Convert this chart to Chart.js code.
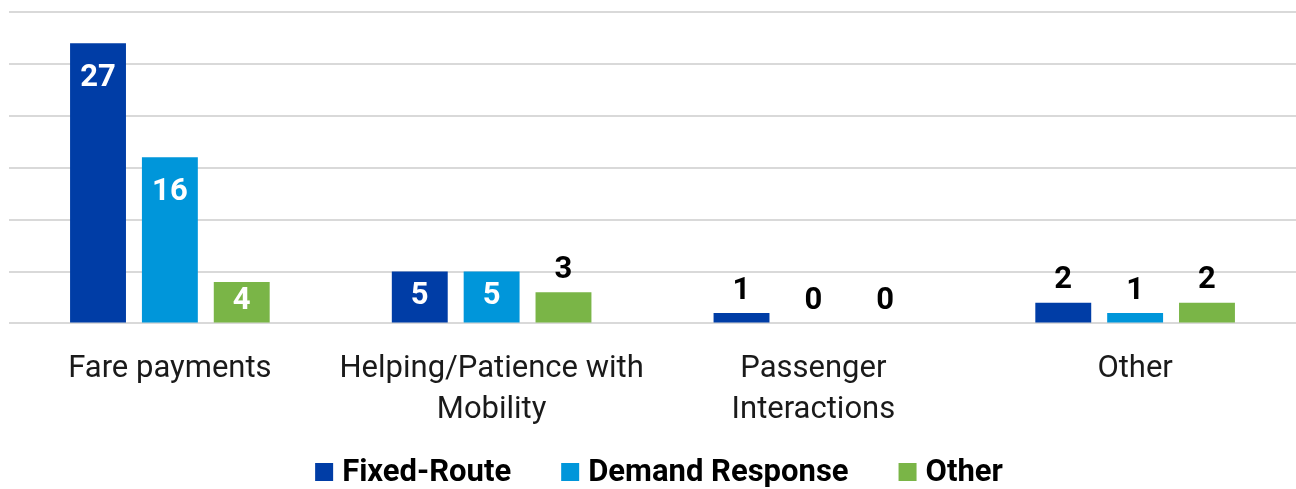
<!DOCTYPE html>
<html>
<head>
<meta charset="utf-8">
<script src="https://cdn.jsdelivr.net/npm/chart.js@4/dist/chart.umd.min.js"></script>
<style>
  html, body { margin: 0; padding: 0; background: #fff; }
  #wrap { width: 1296px; height: 489px; position: relative; }
</style>
</head>
<body>
<div id="wrap"><canvas id="myChart"></canvas></div>
<script>
const categories = [['Fare payments'], ['Helping/Patience with', 'Mobility'], ['Passenger', 'Interactions'], ['Other']];
const seriesNames = ['Fixed-Route', 'Demand Response', 'Other'];
const fixedRoute = [27, 5, 1, 2];
const demandResponse = [16, 5, 0, 1];
const otherSeries = [4, 3, 0, 2];
const yTicks = [0, 5, 10, 15, 20, 25, 30];

const colors = ['#003DA6', '#0096DA', '#7AB547'];
const FONT = 'Roboto, "DejaVu Sans", sans-serif';

// value labels: inside the bar (white) when tall enough, otherwise above it (black)
const valueLabels = {
    id: 'valueLabels',
    afterDatasetsDraw(chart) {
        const ctx = chart.ctx;
        ctx.save();
        ctx.font = 'bold 31px ' + FONT;
        ctx.textAlign = 'center';
        ctx.textBaseline = 'middle';
        chart.data.datasets.forEach((ds, i) => {
            const meta = chart.getDatasetMeta(i);
            meta.data.forEach((bar, j) => {
                const v = ds.data[j];
                const h = bar.base - bar.y;
                if (h > 36) {
                    ctx.fillStyle = '#ffffff';
                    ctx.fillText(String(v), bar.x, bar.y + Math.min(35, h / 2 - 1));
                } else {
                    ctx.fillStyle = '#000000';
                    ctx.fillText(String(v), bar.x, bar.y - 22);
                }
            });
        });
        ctx.restore();
    }
};

// legend drawn at the bottom, centered, with wider spacing than the built-in one
const bottomLegend = {
    id: 'bottomLegend',
    afterDraw(chart) {
        const ctx = chart.ctx;
        ctx.save();
        ctx.font = 'bold 31px ' + FONT;
        ctx.textBaseline = 'middle';
        ctx.textAlign = 'left';
        const box = 18, gapBox = 9, gapItem = 50, cy = 472;
        const items = chart.data.datasets.map(ds => ({ text: ds.label, color: ds.backgroundColor, w: ctx.measureText(ds.label).width }));
        const total = items.reduce((s, it) => s + box + gapBox + it.w, 0) + gapItem * (items.length - 1);
        let x = 659 - total / 2;
        items.forEach(it => {
            ctx.fillStyle = it.color;
            ctx.fillRect(x, cy - box / 2, box, box);
            x += box + gapBox;
            ctx.fillStyle = '#000';
            ctx.fillText(it.text, x, cy + 1);
            x += it.w + gapItem;
        });
        ctx.restore();
    }
};

const ctx = document.getElementById('myChart');
new Chart(ctx, {
    type: 'bar',
    data: {
        labels: categories,
        datasets: [
            { label: seriesNames[0], data: fixedRoute, backgroundColor: colors[0] },
            { label: seriesNames[1], data: demandResponse, backgroundColor: colors[1] },
            { label: seriesNames[2], data: otherSeries, backgroundColor: colors[2] }
        ]
    },
    options: {
        responsive: true,
        maintainAspectRatio: false,
        animation: false,
        datasets: {
            bar: { categoryPercentage: 0.67, barPercentage: 0.778 }
        },
        layout: { padding: { left: 9, right: 0, top: 12, bottom: 33 } },
        scales: {
            x: {
                grid: { display: false, drawTicks: false },
                border: { display: false },
                ticks: {
                    color: '#1a1a1a',
                    font: { family: FONT, size: 31, lineHeight: 1.3 },
                    padding: 26,
                    maxRotation: 0,
                    autoSkip: false
                }
            },
            y: {
                min: 0,
                max: 30,
                afterBuildTicks: (axis) => { axis.ticks = yTicks.map(v => ({ value: v })); },
                ticks: { display: false },
                grid: { color: '#d9d9d9', lineWidth: 2, drawTicks: false },
                border: { display: false }
            }
        },
        plugins: {
            legend: { display: false },
            tooltip: { enabled: false }
        }
    },
    plugins: [valueLabels, bottomLegend]
});
</script>
</body>
</html>
